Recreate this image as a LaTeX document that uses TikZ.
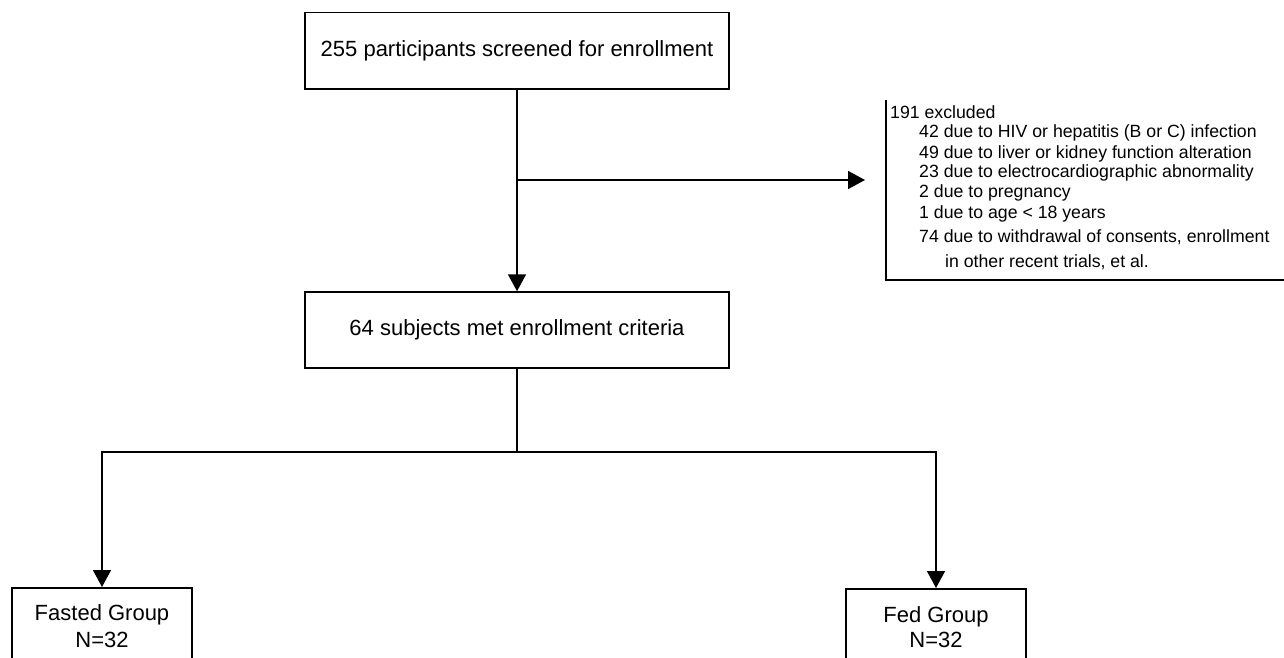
\documentclass[tikz,border=0pt]{standalone}
\usepackage{fontspec}
\setmainfont{Liberation Sans}
\usetikzlibrary{arrows.meta}
\begin{document}
\begin{tikzpicture}[x=1pt,y=-1pt,
  box/.style={draw, line width=1.5pt, fill=white, inner sep=0pt},
  mainfont/.style={font=\fontsize{22}{26}\selectfont},
  exfont/.style={font=\fontsize{17.7}{20}\selectfont, anchor=base west, inner sep=0pt},
  conn/.style={line width=1.5pt},
  arr/.style={conn, -{Triangle[length=17pt,width=18pt]}}]
\clip (0,0) rectangle (1284,658);
\fill[white] (0,0) rectangle (1284,658);
% top box
\node[box, mainfont, minimum width=424pt, minimum height=76.5pt] (top) at (517,51) {255 participants screened for enrollment};
% middle box
\node[box, mainfont, minimum width=424pt, minimum height=76pt] (mid) at (517,330) {64 subjects met enrollment criteria};
% excluded box (left and bottom sides)
\coordinate (exTL) at (886,100);
\coordinate (exBL) at (886,280);
\coordinate (exBR) at (1290,280);
\draw[line width=1.5pt] (exTL) -- (exBL) -- (exBR);
\node[exfont] (excl) at (890,118) {191 excluded};
\node[exfont] (ex1) at (919,138) {42 due to HIV or hepatitis (B or C) infection};
\node[exfont] (ex2) at (919,158) {49 due to liver or kidney function alteration};
\node[exfont] (ex3) at (919,177) {23 due to electrocardiographic abnormality};
\node[exfont] (ex4) at (919,197) {2 due to pregnancy};
\node[exfont] (ex5) at (919,218) {1 due to age < 18 years};
\node[exfont] (ex6) at (919,242) {74 due to withdrawal of consents, enrollment};
\node[exfont] (ex7) at (945,267) {in other recent trials, et al.};
% bottom boxes
\node[box, anchor=north, minimum width=180pt, minimum height=110pt] (fasted) at (102,587) {};
\node[mainfont, anchor=base, inner sep=0pt] (fastedA) at (102,620) {Fasted Group};
\node[mainfont, anchor=base, inner sep=0pt] (fastedB) at (102,647) {N=32};
\node[box, anchor=north, minimum width=180pt, minimum height=110pt] (fed) at (936,588) {};
\node[mainfont, anchor=base, inner sep=0pt] (fedA) at (936,622) {Fed Group};
\node[mainfont, anchor=base, inner sep=0pt] (fedB) at (936,647) {N=32};
% connectors
\coordinate (branch) at (top.south |- 0,180);
\coordinate (exTip) at (865,180);
\draw[arr] (top.south) -- (mid.north);
\draw[arr] (branch) -- (exTip);
\coordinate (split) at (mid.south |- 0,452);
\coordinate (splitL) at (fasted.north |- 0,452);
\coordinate (splitR) at (fed.north |- 0,452);
\draw[conn] (mid.south) -- (split);
\draw[conn] ([xshift=-0.75pt]splitL) -- ([xshift=0.75pt]splitR);
\draw[arr] (splitL) -- (fasted.north);
\draw[arr] (splitR) -- (fed.north);
\end{tikzpicture}
\end{document}
